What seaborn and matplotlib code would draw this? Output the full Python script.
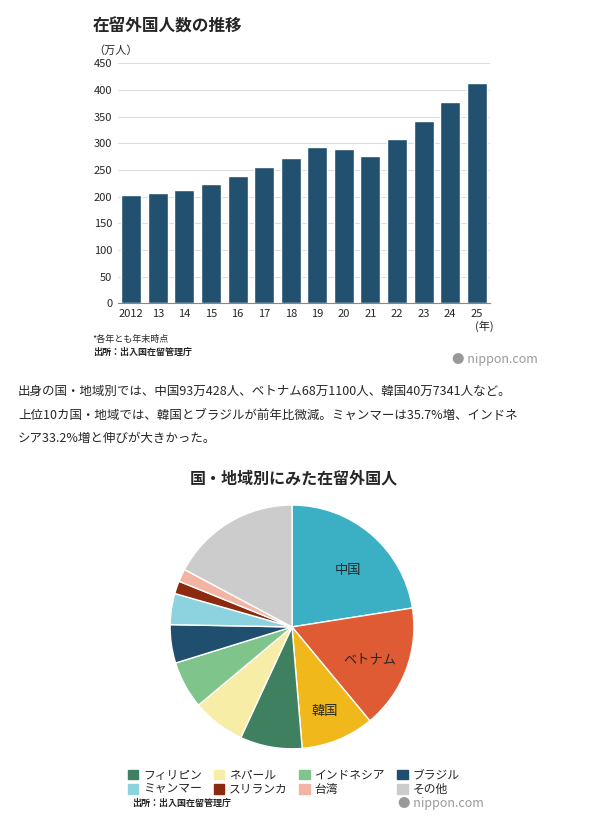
import matplotlib
matplotlib.use("Agg")
import matplotlib.pyplot as plt
import seaborn as sns
import pandas as pd

years = ["2012", "13", "14", "15", "16", "17", "18", "19", "20", "21", "22", "23", "24", "25"]
residents = [203, 207, 212, 223, 238, 256, 273, 293, 289, 276, 308, 341, 377, 413]

countries = ["中国", "ベトナム", "韓国", "フィリピン", "ネパール", "インドネシア", "ブラジル",
             "ミャンマー", "スリランカ", "台湾", "その他"]
country_vals = [93, 68, 40, 34, 29, 26, 21, 17, 7, 7, 71]
pie_colors = ["#3bb0c4", "#de5b34", "#f0b81a", "#3f8060", "#f8eda6", "#7fc48a", "#1f4e6e",
              "#8dd3df", "#8b2a0f", "#f2b5a3", "#cccccc"]

sns.set_style("white")
plt.rcParams["font.family"] = ["Noto Sans CJK JP", "DejaVu Sans"]

fig = plt.figure(figsize=(5.99, 8.22), dpi=100)

# bar chart
ax = fig.add_axes([0.197, 0.631, 0.621, 0.292])
df = pd.DataFrame({"year": years, "val": residents})
sns.barplot(data=df, x="year", y="val", color="#22506f", saturation=1, width=0.75, ax=ax)
ax.set_ylim(0, 450)
ax.set_yticks(range(0, 451, 50))
ax.yaxis.grid(True, color="#dddddd", lw=0.8)
ax.set_axisbelow(True)
for s in ["top", "right", "left"]:
    ax.spines[s].set_visible(False)
ax.spines["bottom"].set_color("#888888")
ax.tick_params(labelsize=8, length=0, pad=4)
ax.set_xlabel("")
ax.set_ylabel("")
ax.text(0.985, -0.07, "(年)", transform=ax.transAxes, ha="center", va="top", fontsize=8)

fig.text(0.155, 0.978, "在留外国人数の推移", fontsize=12, weight="bold", va="top")
fig.text(0.155, 0.945, "（万人）", fontsize=8, va="top")
fig.text(0.155, 0.592, "*各年とも年末時点", fontsize=6.5, va="top")
fig.text(0.155, 0.577, "出所：出入国在留管理庁", fontsize=6.5, va="top", weight="bold")
fig.text(0.755, 0.571, "● nippon.com", fontsize=9, color="#999999", va="top")

fig.text(0.03, 0.532, "出身の国・地域別では、中国93万428人、ベトナム68万1100人、韓国40万7341人など。",
         fontsize=9, va="top")
fig.text(0.03, 0.503, "上位10カ国・地域では、韓国とブラジルが前年比微減。ミャンマーは35.7%増、インドネ",
         fontsize=9, va="top")
fig.text(0.03, 0.474, "シア33.2%増と伸びが大きかった。", fontsize=9, va="top")

fig.text(0.49, 0.428, "国・地域別にみた在留外国人", fontsize=11.5, weight="bold", ha="center", va="top")

# pie chart
pax = fig.add_axes([0.284, 0.0888, 0.407, 0.297])
pax.pie(country_vals, colors=pie_colors, startangle=90, counterclock=False,
        wedgeprops=dict(edgecolor="white", linewidth=1))
pax.set_xlim(-1.0, 1.0)
pax.set_ylim(-1.0, 1.0)
pax.set_aspect("equal")
pax.text(0.46, 0.46, "中国", ha="center", va="center", fontsize=9.5)
pax.text(0.64, -0.27, "ベトナム", ha="center", va="center", fontsize=9.5)
pax.text(0.27, -0.69, "韓国", ha="center", va="center", fontsize=9.5)

# legend filled row by row
order = [0, 4, 1, 5, 2, 6, 3, 7]
leg_labels = countries[3:]
leg_colors = pie_colors[3:]
handles = [plt.Rectangle((0, 0), 1, 1, color=leg_colors[i]) for i in order]
fig.legend(handles, [leg_labels[i] for i in order], loc="upper center",
           bbox_to_anchor=(0.49, 0.078), ncol=4, frameon=False, fontsize=8.5,
           handlelength=0.9, handleheight=0.9, columnspacing=1.0,
           handletextpad=0.4, labelspacing=0.1)

fig.text(0.22, 0.022, "出所：出入国在留管理庁", fontsize=6.5, weight="bold", va="center")
fig.text(0.665, 0.022, "● nippon.com", fontsize=9, color="#999999", va="center")

fig.savefig("out.png", dpi=100, facecolor="white")
